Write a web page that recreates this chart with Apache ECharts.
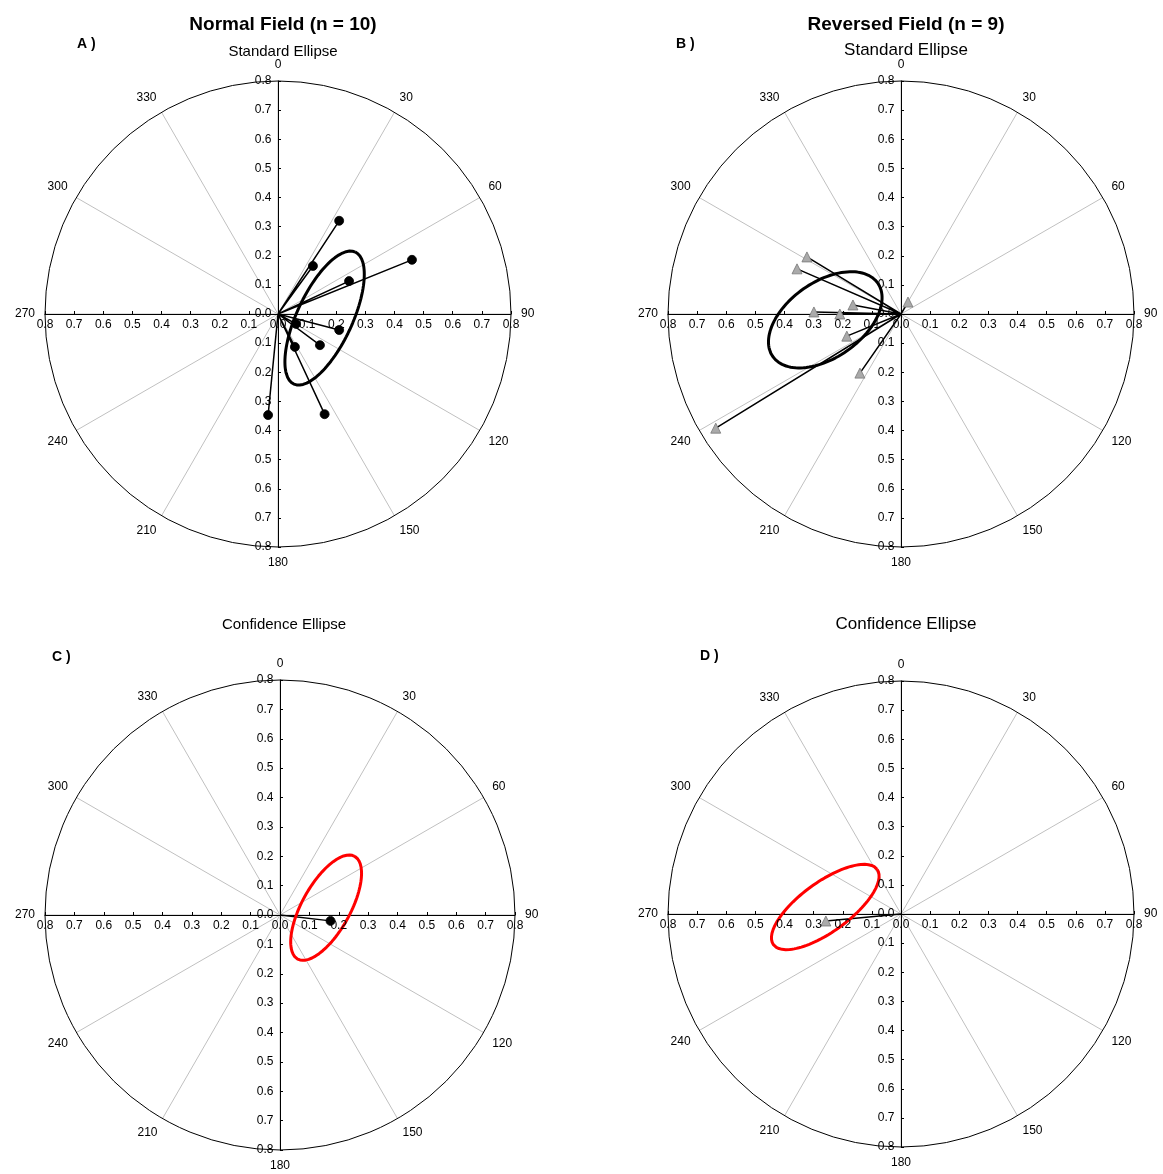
<!DOCTYPE html>
<html>
<head>
<meta charset="utf-8">
<script src="https://cdn.jsdelivr.net/npm/echarts@6/dist/echarts.min.js"></script>
<style>html,body{margin:0;padding:0;background:#fff}#main{width:1163px;height:1174px}</style>
</head>
<body>
<div id="main"></div>
<script>
// vector endpoints (x = east, y = north)
var normalVectors = [[0.21,0.32],[0.12,0.165],[0.244,0.113],[0.46,0.186],[0.062,-0.034],
  [0.21,-0.055],[0.144,-0.107],[0.058,-0.113],[0.16,-0.344],[-0.034,-0.347]];
var reversedVectors = [[-0.323,0.196],[-0.357,0.155],[-0.165,0.031],[-0.299,0.007],[-0.21,0],
  [-0.186,-0.076],[-0.141,-0.203],[-0.636,-0.392],[0.024,0.041]];
var normalMean = [[0.172,-0.02]];
var reversedMean = [[-0.258,-0.024]];
// ellipses: [cx, cy, semiMajor, semiMinor, angleDeg from x axis]
var ellipseA = [0.16,-0.014,0.25,0.095,65];
var ellipseB = [-0.26,-0.02,0.22,0.13,35];
var ellipseC = [0.157,0.025,0.2,0.082,61];
var ellipseD = [-0.26,0.024,0.22,0.085,36];
// tick values along each axis
var tickValues = [-0.8,-0.7,-0.6,-0.5,-0.4,-0.3,-0.2,-0.1,0,0.1,0.2,0.3,0.4,0.5,0.6,0.7,0.8];

function ellipsePts(e) {
  var pts = [], a = e[4] * Math.PI / 180;
  for (var i = 0; i <= 120; i++) {
    var t = i / 120 * 2 * Math.PI;
    var u = e[2] * Math.cos(t), v = e[3] * Math.sin(t);
    pts.push([e[0] + u * Math.cos(a) - v * Math.sin(a), e[1] + u * Math.sin(a) + v * Math.cos(a)]);
  }
  return pts;
}
function vecPts(list) {
  var d = [];
  list.forEach(function (p) { d.push([0, 0], p, '-'); });
  return d;
}

var panels = [
  {left: 45, top: 81, size: 466},
  {left: 668, top: 81, size: 466},
  {left: 45, top: 680, size: 470},
  {left: 668, top: 681, size: 466}
];
var font = 'Liberation Sans, Arial, sans-serif';
var grids = [], xAxes = [], yAxes = [], polars = [], angleAxes = [], radiusAxes = [];
panels.forEach(function (p, i) {
  grids.push({left: p.left, top: p.top, width: p.size, height: p.size, z: 5});
  var axisCommon = {
    gridIndex: i, type: 'value', min: -0.8, max: 0.8, interval: 0.1,
    axisLine: {onZero: true, lineStyle: {color: '#000', width: 1}},
    axisTick: {show: true, length: 3, inside: true, lineStyle: {color: '#000'}},
    splitLine: {show: false},
    axisLabel: {show: false},
    z: 5
  };
  xAxes.push(Object.assign({}, axisCommon));
  yAxes.push(Object.assign({}, axisCommon));
  polars.push({center: [p.left + p.size / 2, p.top + p.size / 2], radius: p.size / 2});
  angleAxes.push({polarIndex: i, type: 'value', min: 0, max: 360, interval: 30, startAngle: 90, clockwise: true,
    axisLine: {lineStyle: {color: '#000', width: 1}},
    axisTick: {show: false},
    splitLine: {show: true, lineStyle: {color: '#c0c0c0', width: 1}},
    axisLabel: {fontFamily: font, fontSize: 12, color: '#000', margin: 10,
      formatter: function (v) { return v === 360 ? '' : String(v); }}});
  radiusAxes.push({polarIndex: i, min: 0, max: 0.8, axisLine: {show: false}, axisTick: {show: false},
    axisLabel: {show: false}, splitLine: {show: false}});
});

function labelSeries(i) {
  var lbl = {fontFamily: font, fontSize: 12, color: '#000', opacity: 1};
  return [
    {type: 'scatter', xAxisIndex: i, yAxisIndex: i, symbolSize: 1, itemStyle: {color: 'rgba(0,0,0,0)', opacity: 1}, silent: true, z: 9,
      data: tickValues.map(function (v) { return [v, 0]; }),
      label: Object.assign({show: true, position: 'bottom', distance: 4,
        formatter: function (p) { return Math.abs(p.value[0]).toFixed(1); }}, lbl)},
    {type: 'scatter', xAxisIndex: i, yAxisIndex: i, symbolSize: 1, itemStyle: {color: 'rgba(0,0,0,0)', opacity: 1}, silent: true, z: 9,
      data: tickValues.map(function (v) { return [0, v]; }),
      label: Object.assign({show: true, position: 'left', distance: 6,
        formatter: function (p) { return Math.abs(p.value[1]).toFixed(1); }}, lbl)}
  ];
}
function vecSeries(i, list) {
  return {type: 'line', xAxisIndex: i, yAxisIndex: i, data: vecPts(list), showSymbol: false,
    connectNulls: false, lineStyle: {color: '#000', width: 1.5}, z: 6, silent: true};
}
function endSeries(i, list, symbol, color, size) {
  return {type: 'scatter', xAxisIndex: i, yAxisIndex: i, data: list, symbol: symbol, symbolSize: size,
    itemStyle: {color: color, opacity: 1, borderColor: color === '#000' ? '#000' : '#777', borderWidth: 0.8}, z: 8};
}
function ellSeries(i, e, color) {
  return {type: 'line', xAxisIndex: i, yAxisIndex: i, data: ellipsePts(e), showSymbol: false,
    lineStyle: {color: color, width: 3}, z: 7, silent: true};
}

var series = [
  vecSeries(0, normalVectors), endSeries(0, normalVectors, 'circle', '#000', 9), ellSeries(0, ellipseA, '#000'),
  vecSeries(1, reversedVectors), endSeries(1, reversedVectors, 'triangle', '#aaa', 10), ellSeries(1, ellipseB, '#000'),
  vecSeries(2, normalMean), endSeries(2, normalMean, 'circle', '#000', 9), ellSeries(2, ellipseC, '#f00'),
  vecSeries(3, reversedMean), endSeries(3, reversedMean, 'triangle', '#aaa', 10), ellSeries(3, ellipseD, '#f00')
];
[0, 1, 2, 3].forEach(function (i) { series = series.concat(labelSeries(i)); });

var option = {
  animation: false,
  grid: grids, xAxis: xAxes, yAxis: yAxes,
  polar: polars, angleAxis: angleAxes, radiusAxis: radiusAxes,
  title: [
    {text: 'Normal Field (n = 10)', left: 278, top: 10, textAlign: 'center', textStyle: {fontFamily: font, fontSize: 19, fontWeight: 'bold', color: '#000'}},
    {text: 'Reversed Field (n = 9)', left: 901, top: 10, textAlign: 'center', textStyle: {fontFamily: font, fontSize: 19, fontWeight: 'bold', color: '#000'}},
    {text: 'Standard Ellipse', left: 278, top: 39, textAlign: 'center', textStyle: {fontFamily: font, fontSize: 15, fontWeight: 'normal', color: '#000'}},
    {text: 'Standard Ellipse', left: 901, top: 37, textAlign: 'center', textStyle: {fontFamily: font, fontSize: 17, fontWeight: 'normal', color: '#000'}},
    {text: 'Confidence Ellipse', left: 279, top: 612, textAlign: 'center', textStyle: {fontFamily: font, fontSize: 15, fontWeight: 'normal', color: '#000'}},
    {text: 'Confidence Ellipse', left: 901, top: 611, textAlign: 'center', textStyle: {fontFamily: font, fontSize: 17, fontWeight: 'normal', color: '#000'}},
    {text: 'A )', left: 72, top: 32, textStyle: {fontFamily: font, fontSize: 14, fontWeight: 'bold', color: '#000'}},
    {text: 'B )', left: 671, top: 32, textStyle: {fontFamily: font, fontSize: 14, fontWeight: 'bold', color: '#000'}},
    {text: 'C )', left: 47, top: 645, textStyle: {fontFamily: font, fontSize: 14, fontWeight: 'bold', color: '#000'}},
    {text: 'D )', left: 695, top: 644, textStyle: {fontFamily: font, fontSize: 14, fontWeight: 'bold', color: '#000'}}
  ],
  series: series
};
echarts.init(document.getElementById('main')).setOption(option);
</script>
</body>
</html>
